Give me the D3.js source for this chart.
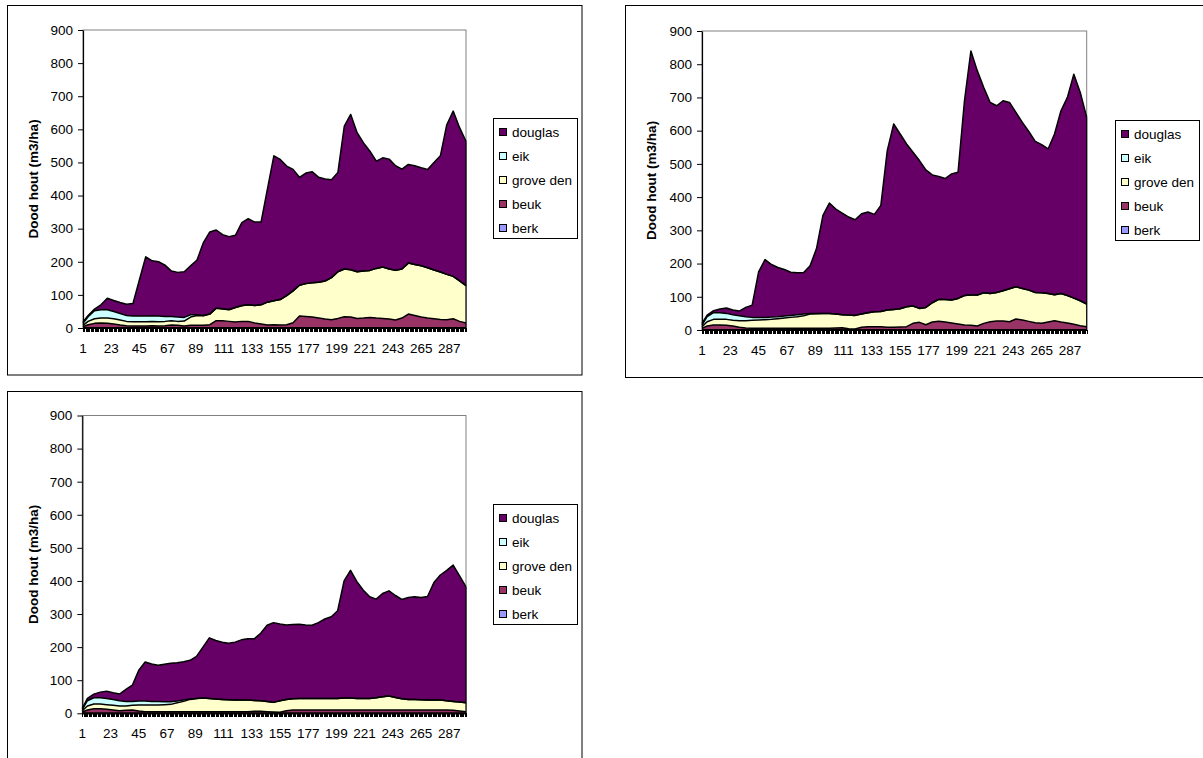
<!DOCTYPE html>
<html>
<head>
<meta charset="utf-8">
<script src="https://cdn.jsdelivr.net/npm/d3@7"></script>
<style>
  body { margin: 0; background: #fff; }
  svg { display: block; font-family: Arial, "Liberation Sans", sans-serif; }
</style>
</head>
<body>
<svg id="chart" width="1203" height="758"></svg>
<script>
// Category positions (years 1..300) at which the stand values were recorded
const sampleCats = [1,5,10,15,20,25,30,35,40,45,50,55,60,65,70,75,80,85,90,95,100,
  105,110,115,120,125,130,135,140,145,150,155,160,165,170,175,180,185,190,195,200,
  205,210,215,220,225,230,235,240,245,250,255,260,265,270,275,280,285,290,295,300];
const categoryCount = 300;
const xTickLabels = [1,23,45,67,89,111,133,155,177,199,221,243,265,287];
const yTickValues = [0,100,200,300,400,500,600,700,800,900];
const seriesNames = ["douglas","eik","grove den","beuk","berk"];
const seriesColors = ["#660066","#CCFFFF","#FFFFCC","#993366","#9999FF"];
const yTitle = "Dood hout (m3/ha)";

// Scenario A
const douglasA = [4,4,5,15,35,33,33,34,38, 109,179,166,164,155,137,135,138, 148,165,220,248,236,224,220,218,
  250,260,252,250,342,438,423,391, 367,326,334,335,317,308,296,300, 432,469,420,387,360,324,330,332,
  316,302,298,298,296,297,325,351, 452,499,463,436];
const eikA = [6,14,24,25,25,22,20,18,17, 17,17,17,17,15,13,13,11, 7,2,1,0,0,1,1,0,
  1,0,0,0,0,0,0,0, 0,0,0,0,0,0,0,0, 0,0,0,0,0,0,0,0, 0,0,0,0,0,0,0,0, 0,0,0,0];
const groveA = [4,10,14,15,16,16,15,13,13, 13,13,13,13,13,13,12,15, 25,30,29,32,38,35,35,44,
  47,50,53,58,69,72,77,88, 96,93,99,104,108,115,127,141, 144,143,141,142,142,150,155,151,
  150,148,154,154,155,152,147,143, 137,128,122,113];
const beukA = [3,9,13,14,13,11,8,6,5, 5,5,6,5,6,8,7,5, 7,7,7,9,21,21,19,17,
  19,19,14,11,8,9,8,9, 15,35,34,32,29,26,24,28, 33,32,28,29,31,29,28,26,
  23,29,41,37,32,29,27,25, 24,27,19,14];
const berkA = [1,1,1,1,1,1,1,1,1, 1,1,1,1,1,1,1,1, 1,1,1,1,1,1,1,1, 1,1,1,1,1,1,1,1,
  1,1,1,1,1,1,1,1, 1,1,1,1,1,1,1,1, 1,1,1,1,1,1,1,1, 1,1,1,1];

// Scenario B
const douglasB = [5,5,6,11,16,14,14,28,37, 137,174,158,148,140,130,126,125, 143,195,295,332,316,306,295,288,
  302,303,293,319,480,558,526,490, 463,445,414,385,370,364,380,380, 586,735,675,618,575,562,572,561,
  525,500,478,455,446,435,484,550, 596,674,627,562];
const eikB = [5,15,20,20,18,17,15,12,9, 8,7,7,6,6,6,6,5, 2,1,0,0,0,0,0,0,
  0,0,0,0,0,0,0,0, 0,0,0,0,0,0,0,0, 0,0,0,0,0,0,0,0, 0,0,0,0,0,0,0,0, 0,0,0,0];
const groveB = [5,13,17,17,18,17,20,22,24, 25,26,27,29,31,33,35,38, 43,44,45,45,42,39,41,41,
  40,42,45,46,52,54,55,60, 52,42,52,58,66,68,69,77, 89,91,93,92,85,86,91,99,
  97,95,94,91,92,86,78,86, 83,79,75,68];
const beukB = [4,11,14,14,13,11,7,5,4, 4,4,4,4,4,4,4,4, 4,4,4,4,5,6,3,2,
  7,9,9,9,7,7,8,9, 19,22,15,23,25,23,20,17, 14,13,11,19,24,26,26,24,
  32,29,25,21,19,23,27,23, 20,16,12,9];
const berkB = [1,1,1,1,1,1,1,1,1, 1,1,1,1,1,1,1,1, 1,1,1,1,1,1,1,1, 1,1,1,1,1,1,1,1,
  1,1,1,1,1,1,1,1, 1,1,1,1,1,1,1,1, 1,1,1,1,1,1,1,1, 1,1,1,1];

// Scenario C
const douglasC = [3,7,11,17,22,20,20,36,49, 93,118,113,109,113,116,116,116, 117,127,154,183,177,173,171,175,
  182,185,186,204,230,241,232,225, 224,224,222,221,229,240,247,265, 354,386,353,327,307,298,312,318,
  308,300,308,310,309,313,355,378, 394,412,381,350];
const eikC = [4,16,19,19,19,18,16,14,12, 12,12,11,11,9,8,5,4, 1,0,0,0,0,0,0,0,
  0,0,0,0,0,0,0,0, 0,0,0,0,0,0,0,0, 0,0,0,0,0,0,0,0, 0,0,0,0,0,0,0,0, 0,0,0,0];
const groveC = [4,12,14,14,14,14,14,13,14, 18,20,20,20,21,22,27,31, 37,40,41,40,38,37,36,35,
  35,35,33,32,31,29,35,34, 34,35,35,35,35,35,35,35, 36,36,35,35,35,37,40,42,
  38,34,32,32,31,30,30,30, 28,27,27,27];
const beukC = [3,9,13,13,11,9,7,8,9, 6,4,4,4,4,4,4,4, 4,4,4,4,4,4,4,4,
  4,4,5,5,4,3,2,7, 9,9,9,9,9,9,9,9, 9,9,9,9,9,9,9,9, 9,9,9,9,9,9,9,9, 9,8,6,4];
const berkC = [1,1,1,1,1,1,1,1,1, 1,1,1,1,1,1,1,1, 1,1,1,1,1,1,1,1, 1,1,1,1,1,1,1,1,
  1,1,1,1,1,1,1,1, 1,1,1,1,1,1,1,1, 1,1,1,1,1,1,1,1, 1,1,1,1];

const svg = d3.select("#chart");
const FONT = 13.5;

function buildRows(douglas, eik, grove, beuk, berk) {
  return sampleCats.map((c, i) => ({
    cat: c, "douglas": douglas[i], "eik": eik[i], "grove den": grove[i], "beuk": beuk[i], "berk": berk[i]
  }));
}

function drawPanel(cfg) {
  const g = svg.append("g");
  const p = cfg.plot;

  // outer chart frame
  g.append("rect")
    .attr("x", cfg.frame.x).attr("y", cfg.frame.y)
    .attr("width", cfg.frame.w).attr("height", cfg.frame.h)
    .attr("fill", "#fff").attr("stroke", "#000").attr("stroke-width", 1);

  const x = d3.scaleLinear().domain([1, categoryCount]).range([p.l, p.r]);
  const y = d3.scaleLinear().domain([0, 900]).range([p.b, p.t]);

  // plot area border (grey, top and right)
  g.append("rect")
    .attr("x", p.l).attr("y", p.t).attr("width", p.r - p.l).attr("height", p.b - p.t)
    .attr("fill", "#fff").attr("stroke", "#808080").attr("stroke-width", 1);

  // stacked areas, bottom layer first
  const keys = ["berk", "beuk", "grove den", "eik", "douglas"];
  const stacked = d3.stack().keys(keys)(cfg.rows);
  const area = d3.area().x(d => x(d.data.cat)).y0(d => y(d[0])).y1(d => y(d[1]));
  const topLine = d3.line().x(d => x(d.data.cat)).y(d => y(d[1]));

  g.selectAll("path.layer").data(stacked).join("path")
    .attr("class", "layer")
    .attr("d", area)
    .attr("fill", s => seriesColors[seriesNames.indexOf(s.key)])
    .attr("stroke", "none");

  g.selectAll("path.edge").data(stacked).join("path")
    .attr("class", "edge")
    .attr("d", topLine)
    .attr("fill", "none")
    .attr("stroke", "#000")
    .attr("stroke-width", 1.5)
    .attr("stroke-linejoin", "round");

  // right edge of the stacked block
  const last = stacked[stacked.length - 1];
  g.append("line")
    .attr("x1", p.r).attr("x2", p.r)
    .attr("y1", y(0)).attr("y2", y(last[last.length - 1][1]))
    .attr("stroke", "#000").attr("stroke-width", 1.2);

  // y axis
  const yAxis = d3.axisLeft(y).tickValues(yTickValues).tickSize(5).tickSizeOuter(0).tickPadding(5);
  const ya = g.append("g").attr("transform", `translate(${p.l},0)`).call(yAxis);
  ya.select(".domain").attr("stroke", "#000").attr("stroke-width", 1.2);
  ya.selectAll(".tick line").attr("stroke", "#000");
  ya.selectAll(".tick text")
    .attr("font-size", FONT).attr("fill", "#000")
    .attr("font-family", "Arial, 'Liberation Sans', sans-serif");

  // x axis: a tick for every category, labels every 22
  const xAxis = d3.axisBottom(x).tickValues(d3.range(1, categoryCount + 1))
    .tickSize(4).tickSizeOuter(0).tickFormat("");
  const xa = g.append("g").attr("transform", `translate(0,${p.b})`).call(xAxis);
  xa.select(".domain").attr("stroke", "#000").attr("stroke-width", 1.2);
  xa.selectAll(".tick line").attr("stroke", "#000").attr("shape-rendering", "crispEdges");

  g.selectAll("text.xlab").data(xTickLabels).join("text")
    .attr("class", "xlab")
    .attr("x", d => x(d)).attr("y", p.b + 20)
    .attr("dy", "0.35em")
    .attr("text-anchor", "middle")
    .attr("font-size", FONT)
    .text(d => d);

  // y axis title
  g.append("text")
    .attr("transform", `translate(${cfg.titleX},${(p.t + p.b) / 2}) rotate(-90)`)
    .attr("text-anchor", "middle").attr("dy", "0.35em")
    .attr("font-size", FONT).attr("font-weight", "bold")
    .text(yTitle);

  // legend
  const L = cfg.legend;
  const lg = g.append("g");
  lg.append("rect").attr("x", L.x).attr("y", L.y).attr("width", L.w).attr("height", L.h)
    .attr("fill", "#fff").attr("stroke", "#000").attr("stroke-width", 1);
  seriesNames.forEach((name, i) => {
    const cy = L.y + 13.5 + i * 24;
    lg.append("rect").attr("x", L.x + 6).attr("y", cy - 3.5).attr("width", 7).attr("height", 7)
      .attr("fill", seriesColors[i]).attr("stroke", "#000").attr("stroke-width", 1);
    lg.append("text").attr("x", L.x + 18.5).attr("y", cy).attr("dy", "0.35em")
      .attr("font-size", FONT).text(name);
  });
}

drawPanel({
  frame: { x: 7.5, y: 5.5, w: 574.5, h: 369.5 },
  plot: { l: 83, r: 466, t: 30, b: 328 },
  legend: { x: 493.5, y: 118.5, w: 84, h: 120 },
  titleX: 33,
  rows: buildRows(douglasA, eikA, groveA, beukA, berkA)
});
drawPanel({
  frame: { x: 625.5, y: 5.5, w: 600, h: 372 },
  plot: { l: 702, r: 1086.7, t: 31, b: 330 },
  legend: { x: 1115.5, y: 120.5, w: 84, h: 120 },
  titleX: 651,
  rows: buildRows(douglasB, eikB, groveB, beukB, berkB)
});
drawPanel({
  frame: { x: 7.5, y: 391.5, w: 574.5, h: 400 },
  plot: { l: 82.3, r: 466, t: 415.5, b: 713.3 },
  legend: { x: 493.5, y: 504.5, w: 84, h: 120 },
  titleX: 33,
  rows: buildRows(douglasC, eikC, groveC, beukC, berkC)
});
</script>
</body>
</html>
